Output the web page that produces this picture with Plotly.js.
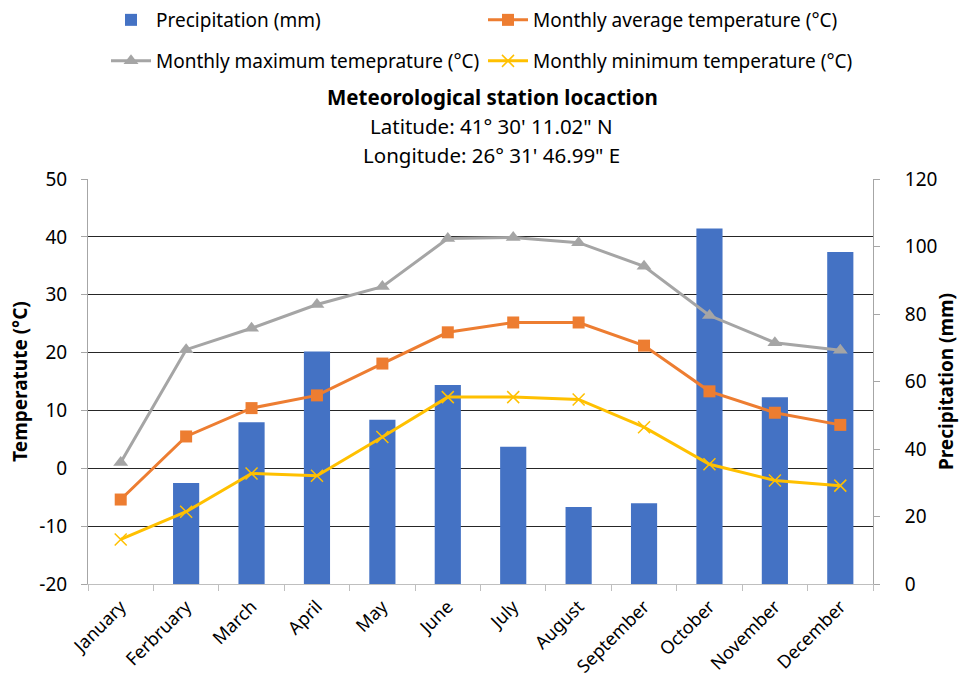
<!DOCTYPE html>
<html><head><meta charset="utf-8">
<script src="https://cdn.plot.ly/plotly-3.0.1.min.js"></script>
<style>html,body{margin:0;padding:0;background:#fff}#chart{width:959px;height:679px}</style>
</head><body><div id="chart"></div>
<script>
const months = ["January","Ferbruary","March","April","May","June","July","August","September","October","November","December"];
const precipitation = [0, 29.9, 47.9, 68.9, 48.7, 59.0, 40.7, 22.8, 23.9, 105.3, 55.3, 98.4];
const avgTemp = [-5.4, 5.5, 10.4, 12.6, 18.1, 23.5, 25.2, 25.2, 21.2, 13.3, 9.6, 7.5];
const maxTemp = [1.0, 20.5, 24.2, 28.3, 31.4, 39.7, 39.9, 39.0, 34.9, 26.4, 21.7, 20.4];
const minTemp = [-12.3, -7.5, -0.9, -1.3, 5.4, 12.3, 12.3, 11.9, 7.1, 0.7, -2.1, -3.0];
const tempTicks = [-20,-10,0,10,20,30,40,50];
const tempTickText = tempTicks.map(v => String(v));
const precTicks = [0,20,40,60,80,100,120];

const FONT = "Noto Sans, Open Sans, sans-serif";
const FS = 19;
const TXT = "#000000";

const traces = [
  {type:"bar", name:"Precipitation (mm)", x:months, y:precipitation, yaxis:"y",
   marker:{color:"#4472C4", line:{width:0}}, legend:"legend"},
  {type:"scatter", mode:"lines+markers", name:"Monthly average temperature (°C)", x:months, y:avgTemp, yaxis:"y2",
   line:{color:"#ED7D31", width:3}, marker:{symbol:"square", size:12, color:"#ED7D31"}, legend:"legend2"},
  {type:"scatter", mode:"lines+markers", name:"Monthly maximum temeprature (°C)", x:months, y:maxTemp, yaxis:"y2",
   line:{color:"#A5A5A5", width:3}, marker:{symbol:"triangle-up", size:13, color:"#A5A5A5"}, legend:"legend3"},
  {type:"scatter", mode:"lines+markers", name:"Monthly minimum temperature (°C)", x:months, y:minTemp, yaxis:"y2",
   line:{color:"#FFC000", width:3}, marker:{symbol:"x-thin", size:12, color:"#FFC000", line:{color:"#FFC000", width:1.5}}, legend:"legend4"}
];

function leg(xpx, ypx){
  return {orientation:"h", xref:"container", yref:"container", xanchor:"left", yanchor:"middle",
    x:xpx/959, y:1-ypx/679, font:{family:FONT, size:FS, color:TXT}, bgcolor:"rgba(0,0,0,0)", itemwidth:40};
}

const layout = {
  width:959, height:679,
  margin:{l:88, r:86, t:179, b:95},
  paper_bgcolor:"#fff", plot_bgcolor:"#fff",
  font:{family:FONT, size:FS, color:TXT},
  showlegend:true,
  bargap:0.6,
  legend:leg(106, 20),
  legend2:leg(483, 20),
  legend3:leg(106, 61),
  legend4:leg(483, 61),
  xaxis:{type:"category", range:[-0.5, 11.5], showline:true, linecolor:"#BFBFBF", linewidth:1, ticks:"outside", ticklen:6, tickcolor:"#BFBFBF",
    tickson:"boundaries", tickangle:-45, ticklabelstandoff:4, tickfont:{family:FONT, size:18, color:TXT}, showgrid:false, fixedrange:true},
  yaxis:{side:"right", range:[0,120], tickvals:precTicks, showgrid:false, zeroline:false, showline:true, linecolor:"#A6A6A6",
    ticks:"outside", ticklen:6, tickcolor:"#A6A6A6", ticklabelstandoff:21, tickfont:{family:FONT, size:FS, color:TXT},
    title:{text:"<b>Precipitation (mm)</b>", font:{family:FONT, size:FS, color:TXT}, standoff:5}},
  yaxis2:{side:"left", overlaying:"y", range:[-20,50], tickvals:tempTicks, ticktext:tempTickText, showgrid:true, gridcolor:"#262626", gridwidth:1,
    zeroline:false, showline:true, linecolor:"#A6A6A6", ticks:"outside", ticklen:6, tickcolor:"#A6A6A6", ticklabelstandoff:10,
    tickfont:{family:FONT, size:FS, color:TXT},
    title:{text:"<b>Temperatute (°C)</b>", font:{family:FONT, size:FS, color:TXT}, standoff:6}},
  annotations:[
    {text:"<b>Meteorological station locaction</b>", xref:"paper", yref:"paper", x:(492-88)/785, y:1+(179-97)/405, showarrow:false, xanchor:"center", yanchor:"middle", font:{family:FONT, size:20.5, color:TXT}},
    {text:"Latitude: 41° 30' 11.02\" N", xref:"paper", yref:"paper", x:(491-88)/785, y:1+(179-126)/405, showarrow:false, xanchor:"center", yanchor:"middle", font:{family:FONT, size:20.5, color:TXT}},
    {text:"Longitude: 26° 31' 46.99\" E", xref:"paper", yref:"paper", x:(491-88)/785, y:1+(179-155)/405, showarrow:false, xanchor:"center", yanchor:"middle", font:{family:FONT, size:20.5, color:TXT}}
  ]
};

Plotly.newPlot("chart", traces, layout, {displayModeBar:false, responsive:false});
</script>
</body></html>
